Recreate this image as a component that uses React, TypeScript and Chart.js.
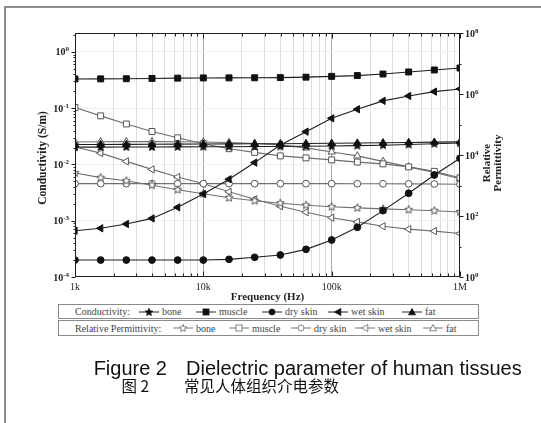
import React, { useEffect, useRef } from 'react';
import { Chart, registerables } from 'chart.js';

Chart.register(...registerables);

// ---------- data ----------
const frequencies = [1000, 1585, 2512, 3981, 6310, 10000, 15849, 25119, 39811, 63096, 100000, 158489, 251189, 398107, 630957, 1000000];

const condBone = [0.0203, 0.0203, 0.0204, 0.0204, 0.0205, 0.0206, 0.0207, 0.0208, 0.0209, 0.0211, 0.0213, 0.0216, 0.022, 0.0226, 0.0233, 0.024];
const condMuscle = [0.331, 0.332, 0.334, 0.338, 0.342, 0.345, 0.346, 0.347, 0.35, 0.356, 0.368, 0.38, 0.405, 0.44, 0.478, 0.518];
const condDrySkin = [0.0002, 0.0002, 0.0002, 0.0002, 0.0002, 0.0002, 0.000206, 0.000224, 0.000246, 0.00031, 0.000455, 0.000765, 0.00151, 0.00308, 0.0065, 0.0129];
const condWetSkin = [0.000665, 0.000734, 0.000875, 0.0011, 0.00173, 0.00299, 0.00546, 0.0108, 0.0222, 0.0383, 0.0662, 0.0958, 0.135, 0.165, 0.197, 0.22];
const condFat = [0.0226, 0.0227, 0.0228, 0.0229, 0.023, 0.0231, 0.0232, 0.0233, 0.0234, 0.0236, 0.0238, 0.024, 0.0243, 0.0246, 0.0249, 0.0252];

const permBone = [2560, 1810, 1430, 1020, 723, 535, 396, 316, 262, 225, 201, 184, 171, 161, 149, 136];
const permMuscle = [360000, 192000, 104000, 59000, 36700, 23400, 16100, 12200, 9350, 8040, 6920, 5860, 5120, 4080, 2910, 1790];
const permDrySkin = [1150, 1150, 1150, 1150, 1150, 1150, 1150, 1150, 1150, 1150, 1150, 1145, 1140, 1130, 1120, 1100];
const permWetSkin = [18400, 11500, 6180, 3380, 1900, 1140, 622, 354, 209, 133, 88, 64, 46, 37, 32, 26.8];
const permFat = [26800, 27200, 27400, 27400, 27200, 26800, 25800, 23900, 21400, 17100, 12600, 9350, 6180, 4080, 2700, 1660];

const tissueNames = ['bone', 'muscle', 'dry skin', 'wet skin', 'fat'];
const xTickValues = [1e3, 1e4, 1e5, 1e6];
const xTickLabels = ['1k', '10k', '100k', '1M'];
const leftTickExponents = [0, -1, -2, -3, -4];
const rightTickExponents = [0, 2, 4, 6, 8];

// ---------- helpers ----------
type Shape = 'star' | 'square' | 'circle' | 'triLeft' | 'triUp';
const tissueShapes: Shape[] = ['star', 'square', 'circle', 'triLeft', 'triUp'];

const SERIF = '"Liberation Serif", "DejaVu Serif", serif';

function starCanvas(fill: string, stroke: string, r: number) {
  const c = document.createElement('canvas');
  const s = Math.ceil(r * 2 + 3);
  c.width = s;
  c.height = s;
  const g = c.getContext('2d')!;
  g.beginPath();
  for (let i = 0; i < 10; i++) {
    const ang = -Math.PI / 2 + (i * Math.PI) / 5;
    const rr = i % 2 === 0 ? r : r * 0.45;
    g.lineTo(s / 2 + rr * Math.cos(ang), s / 2 + rr * Math.sin(ang));
  }
  g.closePath();
  g.fillStyle = fill;
  g.fill();
  g.strokeStyle = stroke;
  g.lineWidth = 1;
  g.stroke();
  return c;
}

function starPoints(cx: number, cy: number, r: number) {
  const pts: string[] = [];
  for (let i = 0; i < 10; i++) {
    const ang = -Math.PI / 2 + (i * Math.PI) / 5;
    const rr = i % 2 === 0 ? r : r * 0.45;
    pts.push(`${(cx + rr * Math.cos(ang)).toFixed(2)},${(cy + rr * Math.sin(ang)).toFixed(2)}`);
  }
  return pts.join(' ');
}

function drawPow(ctx: CanvasRenderingContext2D, exp: number, x: number, y: number, align: 'left' | 'right') {
  const base = '10';
  const e = String(exp);
  ctx.font = `bold 10px ${SERIF}`;
  const bw = ctx.measureText(base).width;
  ctx.font = `bold 7px ${SERIF}`;
  const ew = ctx.measureText(e).width;
  const start = align === 'right' ? x - bw - ew : x;
  ctx.textAlign = 'left';
  ctx.textBaseline = 'alphabetic';
  ctx.font = `bold 10px ${SERIF}`;
  ctx.fillText(base, start, y + 3.5);
  ctx.font = `bold 7px ${SERIF}`;
  ctx.fillText(e, start + bw, y - 0.5);
}

const decorPlugin = {
  id: 'decor',
  afterDraw(chart: any) {
    const { ctx, chartArea: a, scales } = chart;
    const xs = scales.x;
    const yl = scales.y;
    const yr = scales.y2;
    ctx.save();
    ctx.strokeStyle = '#1e1e1e';
    ctx.lineWidth = 1;
    const L = Math.round(a.left) + 0.5;
    const R = Math.round(a.right) - 0.5;
    const T = Math.round(a.top) + 0.5;
    const B = Math.round(a.bottom) - 0.5;
    ctx.strokeRect(L, T, R - L, B - T);

    ctx.beginPath();
    // x ticks (inward, top and bottom)
    for (let d = 3; d <= 6; d++) {
      for (let m = 1; m <= 9; m++) {
        const v = m * Math.pow(10, d);
        if (v > 1e6) break;
        const px = Math.round(xs.getPixelForValue(v)) + 0.5;
        const len = m === 1 ? 5 : 3;
        ctx.moveTo(px, B);
        ctx.lineTo(px, B - len);
        ctx.moveTo(px, T);
        ctx.lineTo(px, T + len);
      }
    }
    // left ticks (outward)
    for (let d = -4; d <= 0; d++) {
      for (let m = 1; m <= 9; m++) {
        const v = m * Math.pow(10, d);
        if (v > yl.max) break;
        const py = Math.round(yl.getPixelForValue(v)) + 0.5;
        const len = m === 1 ? 4 : 2;
        ctx.moveTo(L, py);
        ctx.lineTo(L - len, py);
      }
    }
    // right ticks (outward)
    for (let d = 0; d <= 8; d++) {
      const py = Math.round(yr.getPixelForValue(Math.pow(10, d))) + 0.5;
      const len = d % 2 === 0 ? 4 : 2;
      ctx.moveTo(R, py);
      ctx.lineTo(R + len, py);
    }
    ctx.stroke();

    ctx.fillStyle = '#1e1e1e';
    // x labels
    ctx.font = `10px ${SERIF}`;
    ctx.textAlign = 'center';
    ctx.textBaseline = 'top';
    xTickValues.forEach((v, i) => {
      ctx.fillText(xTickLabels[i], xs.getPixelForValue(v), a.bottom + 5);
    });
    // y labels
    leftTickExponents.forEach((e) => {
      drawPow(ctx, e, a.left - 6, yl.getPixelForValue(Math.pow(10, e)), 'right');
    });
    rightTickExponents.forEach((e) => {
      drawPow(ctx, e, a.right + 5, yr.getPixelForValue(Math.pow(10, e)), 'left');
    });

    // titles
    ctx.textAlign = 'center';
    ctx.textBaseline = 'middle';
    ctx.font = `bold 11px ${SERIF}`;
    ctx.fillText('Frequency (Hz)', (a.left + a.right) / 2, 297);

    ctx.save();
    ctx.translate(43, 158);
    ctx.rotate(-Math.PI / 2);
    ctx.font = `bold 11.5px ${SERIF}`;
    ctx.fillText('Conductivity (S/m)', 0, 0);
    ctx.restore();

    ctx.save();
    ctx.translate(487, 163);
    ctx.rotate(-Math.PI / 2);
    ctx.font = `bold 11px ${SERIF}`;
    ctx.fillText('Relative', 0, 0);
    ctx.fillText('Permittivity', 0, 11);
    ctx.restore();

    ctx.restore();
  },
};

function Icon({ shape, filled }: { shape: Shape; filled: boolean }) {
  const fill = filled ? '#111' : '#fff';
  const stroke = filled ? '#111' : '#666';
  const line = filled ? '#222' : '#777';
  let m: React.ReactNode = null;
  if (shape === 'square') m = <rect x={7} y={2} width={6} height={6} fill={fill} stroke={stroke} strokeWidth={0.8} />;
  if (shape === 'circle') m = <circle cx={10} cy={5} r={3} fill={fill} stroke={stroke} strokeWidth={0.8} />;
  if (shape === 'triUp') m = <polygon points="10,1.5 13.5,7.8 6.5,7.8" fill={fill} stroke={stroke} strokeWidth={0.8} />;
  if (shape === 'triLeft') m = <polygon points="6.5,5 12.8,1.5 12.8,8.5" fill={fill} stroke={stroke} strokeWidth={0.8} />;
  if (shape === 'star') m = <polygon points={starPoints(10, 5.3, 4)} fill={fill} stroke={stroke} strokeWidth={0.8} />;
  return (
    <svg width={20} height={10} style={{ display: 'block' }}>
      <line x1={0} y1={5} x2={20} y2={5} stroke={line} strokeWidth={1} />
      {m}
    </svg>
  );
}

const row1X = [139, 196, 262, 328, 402];
const row2X = [173, 229, 291, 355, 423];

function LegendRow({ title, xs, filled, top, height }: { title: string; xs: number[]; filled: boolean; top: number; height: number }) {
  const boxLeft = 58;
  return (
    <div
      style={{
        position: 'absolute',
        left: boxLeft,
        top,
        width: 421,
        height,
        boxSizing: 'border-box',
        border: '1px solid #8a8a8a',
        fontFamily: SERIF,
        fontSize: 10,
        color: '#444',
      }}
    >
      <div style={{ position: 'absolute', left: 75 - boxLeft - 1, top: 0, bottom: 0, display: 'flex', alignItems: 'center', whiteSpace: 'nowrap' }}>{title}</div>
      {tissueNames.map((n, i) => (
        <div
          key={n}
          style={{ position: 'absolute', left: xs[i] - boxLeft - 1, top: 0, bottom: 0, display: 'flex', alignItems: 'center', whiteSpace: 'nowrap' }}
        >
          <Icon shape={tissueShapes[i]} filled={filled} />
          <span style={{ marginLeft: 3 }}>{n}</span>
        </div>
      ))}
    </div>
  );
}

export default function App() {
  const ref = useRef<HTMLCanvasElement | null>(null);

  useEffect(() => {
    if (!ref.current) return;
    const pts = (arr: number[]) => frequencies.map((f, i) => ({ x: f, y: arr[i] }));
    const starFilled = starCanvas('#111', '#111', 4.2);
    const starHollow = starCanvas('#fff', '#555', 4.2);

    const mk = (label: string, arr: number[], axis: string, shape: Shape, filled: boolean) => {
      let style: any = 'circle';
      let rot = 0;
      let radius = 3.5;
      if (shape === 'square') { style = 'rect'; radius = 4.2; }
      if (shape === 'circle') { style = 'circle'; radius = 3.4; }
      if (shape === 'triUp') { style = 'triangle'; radius = 4.2; }
      if (shape === 'triLeft') { style = 'triangle'; rot = -90; radius = 4.2; }
      if (shape === 'star') { style = filled ? starFilled : starHollow; }
      return {
        label,
        data: pts(arr),
        yAxisID: axis,
        borderColor: filled ? '#1e1e1e' : '#6e6e6e',
        borderWidth: 1.1,
        pointStyle: style,
        pointRotation: rot,
        pointRadius: radius,
        pointBackgroundColor: filled ? '#111' : '#fff',
        pointBorderColor: filled ? '#111' : '#555',
        pointBorderWidth: 1,
        tension: 0,
        fill: false,
      };
    };

    const chart = new Chart(ref.current, {
      type: 'line',
      data: {
        datasets: [
          mk('Conductivity bone', condBone, 'y', 'star', true),
          mk('Conductivity muscle', condMuscle, 'y', 'square', true),
          mk('Conductivity dry skin', condDrySkin, 'y', 'circle', true),
          mk('Conductivity wet skin', condWetSkin, 'y', 'triLeft', true),
          mk('Conductivity fat', condFat, 'y', 'triUp', true),
          mk('Relative Permittivity bone', permBone, 'y2', 'star', false),
          mk('Relative Permittivity muscle', permMuscle, 'y2', 'square', false),
          mk('Relative Permittivity dry skin', permDrySkin, 'y2', 'circle', false),
          mk('Relative Permittivity wet skin', permWetSkin, 'y2', 'triLeft', false),
          mk('Relative Permittivity fat', permFat, 'y2', 'triUp', false),
        ] as any,
      },
      options: {
        animation: false,
        responsive: false,
        maintainAspectRatio: false,
        devicePixelRatio: 1,
        layout: { padding: { top: 33, left: 0, right: 0, bottom: 0 } },
        plugins: { legend: { display: false }, tooltip: { enabled: false } },
        scales: {
          x: {
            type: 'logarithmic',
            position: 'bottom',
            min: 1000,
            max: 1000000,
            afterBuildTicks: (s: any) => {
              const t: any[] = [];
              for (let d = 3; d <= 5; d++) for (let m = 1; m <= 9; m++) t.push({ value: m * Math.pow(10, d), major: m === 1 });
              t.push({ value: 1e6, major: true });
              s.ticks = t;
            },
            afterFit: (s: any) => { s.height = 26; },
            ticks: { display: false },
            grid: {
              drawTicks: false,
              lineWidth: 1,
              color: (c: any) => {
                const v = c.tick ? c.tick.value : 0;
                if (v === 1e4 || v === 1e5) return '#a8a8a8';
                if (v === 1e3 || v === 1e6) return 'rgba(0,0,0,0)';
                return '#dcdcdc';
              },
            },
            border: { display: false },
          },
          y: {
            type: 'logarithmic',
            position: 'left',
            min: 0.0001,
            max: 2.17,
            afterBuildTicks: (s: any) => {
              s.ticks = [0.001, 0.01, 0.1, 1].map((v) => ({ value: v, major: true }));
            },
            afterFit: (s: any) => { s.width = 75; },
            ticks: { display: false },
            grid: { drawTicks: false, color: '#efefef', lineWidth: 1 },
            border: { display: false },
          },
          y2: {
            type: 'logarithmic',
            position: 'right',
            min: 1,
            max: 100000000,
            afterFit: (s: any) => { s.width = 81; },
            ticks: { display: false },
            grid: { display: false, drawTicks: false },
            border: { display: false },
          },
        },
      } as any,
      plugins: [decorPlugin],
    });
    return () => chart.destroy();
  }, []);

  return (
    <div style={{ position: 'absolute', left: 0, top: 0, width: 541, height: 423, background: '#fff', overflow: 'hidden' }}>
      <div
        style={{
          position: 'absolute',
          left: 4,
          top: 6,
          width: 600,
          height: 500,
          borderTop: '2px solid #8c8c8c',
          borderLeft: '2px solid #8c8c8c',
        }}
      />
      <canvas ref={ref} width={541} height={303} style={{ position: 'absolute', left: 0, top: 0, width: 541, height: 303 }} />
      <LegendRow title="Conductivity:" xs={row1X} filled={true} top={304} height={15} />
      <LegendRow title="Relative Permittivity:" xs={row2X} filled={false} top={320} height={16} />
      <div style={{ position: 'absolute', left: 0, top: 0, width: 541, height: 423, fontFamily: '"Liberation Sans", Arial, sans-serif', color: '#111' }}>
        <span style={{ position: 'absolute', right: 541 - 167, top: 358, whiteSpace: 'nowrap', fontSize: 20, lineHeight: '20px' }}>Figure 2</span>
        <span style={{ position: 'absolute', left: 186, top: 358, whiteSpace: 'nowrap', fontSize: 20, lineHeight: '20px' }}>Dielectric parameter of human tissues</span>
        <span style={{ position: 'absolute', right: 541 - 149, top: 375, whiteSpace: 'nowrap', fontSize: 15.5, lineHeight: '20px', fontFamily: '"Noto Sans CJK SC", "Liberation Sans", sans-serif' }}>图 2</span>
        <span style={{ position: 'absolute', left: 184, top: 375, whiteSpace: 'nowrap', fontSize: 15.5, lineHeight: '20px', fontFamily: '"Noto Sans CJK SC", sans-serif' }}>常见人体组织介电参数</span>
      </div>
    </div>
  );
}
